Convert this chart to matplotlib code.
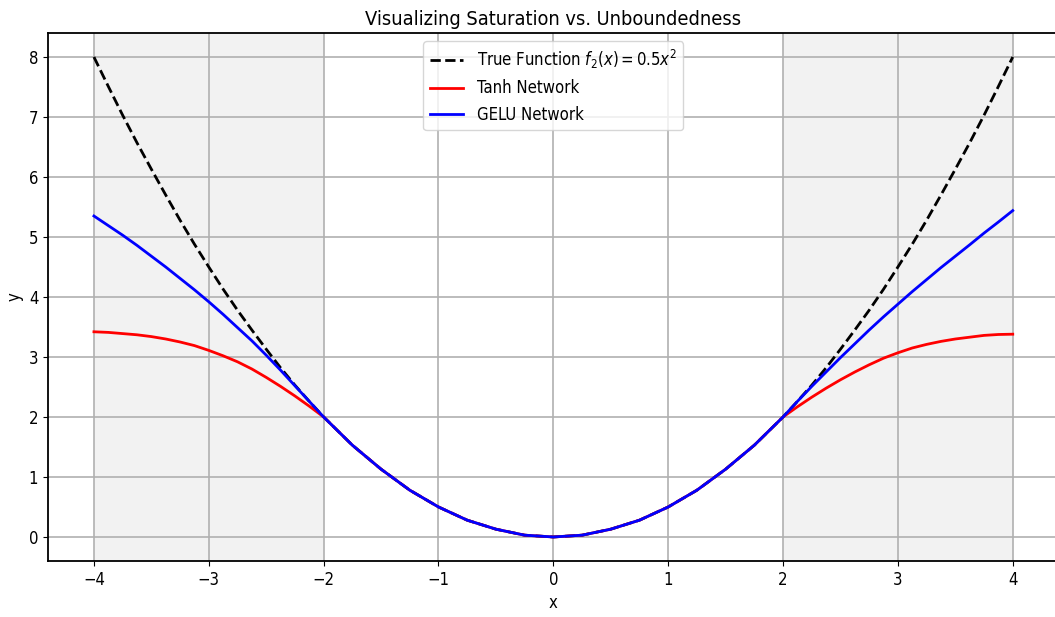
import matplotlib.pyplot as plt

plt.rcParams['font.family'] = 'DejaVu Sans'
plt.rcParams['font.stretch'] = 'condensed'

# sample points (finer steps in the shaded parts)
x_vals = [-4.0, -3.875, -3.75, -3.625, -3.5, -3.375, -3.25, -3.125,
          -3.0, -2.875, -2.75, -2.625, -2.5, -2.375, -2.25, -2.125,
          -2.0, -1.75, -1.5, -1.25, -1.0, -0.75, -0.5, -0.25, 0.0,
          0.25, 0.5, 0.75, 1.0, 1.25, 1.5, 1.75,
          2.0, 2.125, 2.25, 2.375, 2.5, 2.625, 2.75, 2.875,
          3.0, 3.125, 3.25, 3.375, 3.5, 3.625, 3.75, 3.875, 4.0]

true_vals = [8.0, 7.51, 7.03, 6.57, 6.13, 5.70, 5.28, 4.88,
             4.5, 4.13, 3.78, 3.45, 3.13, 2.82, 2.53, 2.26,
             2.0, 1.53, 1.13, 0.78, 0.5, 0.28, 0.13, 0.03, 0.0,
             0.03, 0.13, 0.28, 0.5, 0.78, 1.13, 1.53,
             2.0, 2.26, 2.53, 2.82, 3.13, 3.45, 3.78, 4.13,
             4.5, 4.88, 5.28, 5.70, 6.13, 6.57, 7.03, 7.51, 8.0]

tanh_vals = [3.42, 3.41, 3.39, 3.37, 3.34, 3.30, 3.25, 3.19,
             3.11, 3.02, 2.92, 2.80, 2.66, 2.51, 2.35, 2.18,
             2.0, 1.53, 1.13, 0.78, 0.5, 0.28, 0.13, 0.03, 0.0,
             0.03, 0.13, 0.28, 0.5, 0.78, 1.13, 1.53,
             2.0, 2.17, 2.33, 2.48, 2.62, 2.75, 2.87, 2.98,
             3.07, 3.15, 3.21, 3.26, 3.30, 3.33, 3.36, 3.375, 3.38]

gelu_vals = [5.35, 5.19, 5.03, 4.86, 4.68, 4.50, 4.31, 4.12,
             3.92, 3.71, 3.49, 3.27, 3.03, 2.78, 2.52, 2.26,
             2.0, 1.53, 1.13, 0.78, 0.5, 0.28, 0.13, 0.03, 0.0,
             0.03, 0.13, 0.28, 0.5, 0.78, 1.13, 1.53,
             2.0, 2.26, 2.51, 2.75, 2.99, 3.22, 3.45, 3.67,
             3.88, 4.09, 4.29, 4.49, 4.68, 4.87, 5.065, 5.25, 5.44]

fig = plt.figure(figsize=(10.55, 6.17), dpi=100)
ax = fig.add_axes([0.0455, 0.0908, 0.958, 0.8557])

# shaded extrapolation regions
ax.axvspan(-4, -2, color='gray', alpha=0.1, lw=0)
ax.axvspan(2, 4, color='gray', alpha=0.1, lw=0)

ax.plot(x_vals, true_vals, 'k--', lw=2, label=r'True Function $f_2(x) = 0.5x^2$')
ax.plot(x_vals, tanh_vals, color='red', lw=2, label='Tanh Network')
ax.plot(x_vals, gelu_vals, color='blue', lw=2, label='GELU Network')

ax.set_xlim(-4.4, 4.4)
ax.set_ylim(-0.4, 8.4)
ax.set_title('Visualizing Saturation vs. Unboundedness', fontsize=14.3)
ax.set_xlabel('x', fontsize=12)
ax.set_ylabel('y', fontsize=12)
ax.tick_params(labelsize=12)
ax.grid(True, lw=1.2)
for s in ax.spines.values():
    s.set_linewidth(1.3)
ax.legend(loc='upper center', fontsize=12)

fig.savefig('out.png', dpi=100)
